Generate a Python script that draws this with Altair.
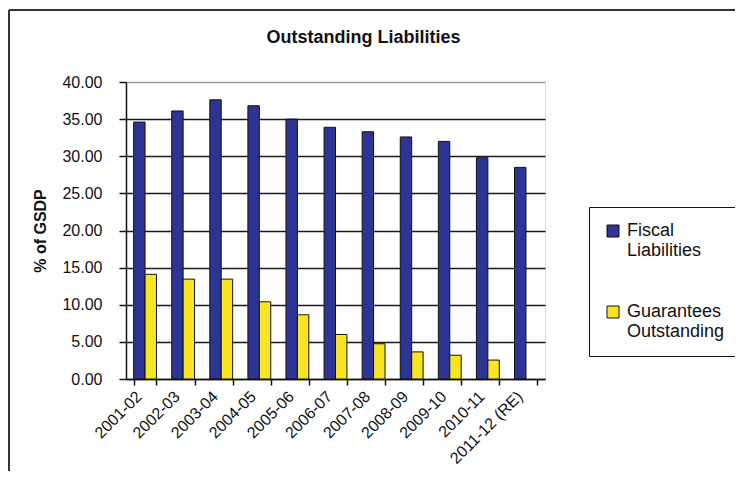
import altair as alt
import pandas as pd

years = ["2001-02", "2002-03", "2003-04", "2004-05", "2005-06", "2006-07",
         "2007-08", "2008-09", "2009-10", "2010-11", "2011-12 (RE)"]
fiscal = [34.6, 36.1, 37.6, 36.8, 35.0, 33.9, 33.3, 32.6, 32.0, 29.8, 28.5]
guarantees = [14.1, 13.45, 13.45, 10.4, 8.65, 6.0, 4.75, 3.65, 3.2, 2.55, None]
series = ["Fiscal Liabilities", "Guarantees Outstanding"]
y_ticks = [0, 5, 10, 15, 20, 25, 30, 35, 40]

rows = []
for i, yr in enumerate(years):
    rows.append({"year": yr, "series": series[0], "value": fiscal[i]})
    if guarantees[i] is not None:
        rows.append({"year": yr, "series": series[1], "value": guarantees[i]})
df = pd.DataFrame(rows)

FONT = "Liberation Sans"
INK = "#111111"

bars = alt.Chart(df).mark_bar(stroke=INK, strokeWidth=1).encode(
    x=alt.X(
        "year:N", sort=years,
        scale=alt.Scale(paddingInner=0.4, paddingOuter=0.2),
        axis=alt.Axis(
            title=None, labelAngle=-45, labelFontSize=16, labelFont=FONT,
            labelColor=INK, tickBand="extent", tickSize=6, tickColor=INK,
            tickWidth=1.5, domainColor=INK, domainWidth=1.5, grid=False,
            labelPadding=3, labelOffset=-12,
        ),
    ),
    xOffset=alt.XOffset("series:N", sort=series,
                        scale=alt.Scale(domain=series, paddingInner=0, paddingOuter=0)),
    y=alt.Y(
        "value:Q",
        scale=alt.Scale(domain=[0, 40], nice=False),
        axis=alt.Axis(
            values=y_ticks, format=".2f", title="% of GSDP",
            titleFont=FONT, titleFontSize=16, titleFontWeight="bold",
            titleColor=INK, titleX=-86, titleY=148.5, titleAngle=-90,
            titleAlign="center", titleBaseline="middle",
            labelFont=FONT, labelFontSize=16, labelColor=INK,
            labelPadding=17, tickSize=7, tickColor=INK, tickWidth=1.5,
            domainColor=INK, domainWidth=1.5,
            grid=True,
            gridColor={"condition": {"test": "datum.value === 40", "value": "#9a9a9a"},
                       "value": "#1a1a1a"},
            gridWidth=1.4,
        ),
    ),
    color=alt.Color(
        "series:N",
        scale=alt.Scale(domain=series, range=["#2c3593", "#f7e524"]),
        legend=alt.Legend(
            title=None, orient="none", legendX=463, legendY=125,
            labelExpr="split(datum.label, ' ')",
            labelFont=FONT, labelFontSize=18, labelColor=INK,
            symbolType="square", symbolSize=144, symbolStrokeColor=INK,
            symbolStrokeWidth=1, symbolOpacity=1,
            strokeColor=INK, fillColor="white", padding=15, rowPadding=43,
            labelOffset=5, labelLimit=300,
        ),
    ),
)

frame_src = alt.Data(values=[{"k": 1}])
top_line = alt.Chart(frame_src).mark_rule(color="#333333", strokeWidth=2).encode(
    x=alt.value(-117), x2=alt.value(640), y=alt.value(-72)
)
left_line = alt.Chart(frame_src).mark_rule(color="#333333", strokeWidth=2).encode(
    x=alt.value(-117), y=alt.value(-72), y2=alt.value(420)
)

chart = alt.layer(bars, top_line, left_line).properties(
    width=419, height=297,
    autosize=alt.AutoSizeParams(type="none"),
    padding={"left": 118, "top": 74, "right": 190, "bottom": 92},
    title=alt.TitleParams(
        "Outstanding Liabilities", font=FONT, fontSize=18, fontWeight="bold",
        color=INK, anchor="middle", dx=28, offset=0, dy=52, baseline="alphabetic",
    ),
).configure_view(
    fill="#cccccc", stroke="#9a9a9a", strokeWidth=2
).configure(background="white")

chart.save("out.html", embed_options={"renderer": "svg", "actions": False})
